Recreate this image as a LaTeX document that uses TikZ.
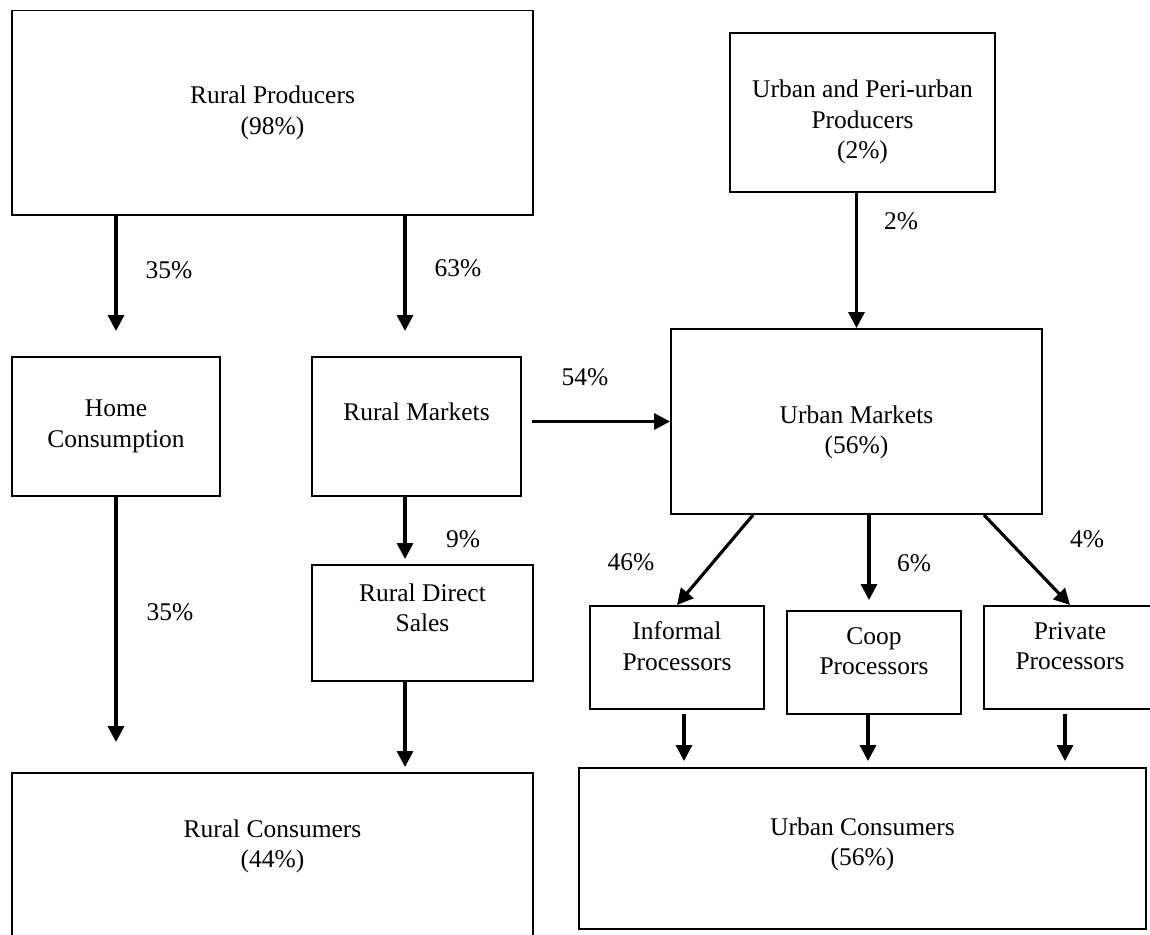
\documentclass[tikz,border=0pt]{standalone}
\usepackage{fontspec}
\setmainfont{Liberation Serif}
\usepackage{tikz}
\usetikzlibrary{arrows.meta}

\begin{document}
\begin{tikzpicture}[x=0.02cm, y=-0.02cm]
        \tikzset{box/.style = {shape=rectangle, draw, line width=1.1pt, align=center,
                inner sep=0pt, font=\fontsize{14.5}{17.4}\selectfont}}
        \tikzset{pct/.style = {font=\fontsize{14.5}{17.4}\selectfont}}
        \tikzset{flow/.style = {line width=1.8pt, -{Triangle[length=0.32cm, width=0.32cm]}}}

        \useasboundingbox (0, 0) rectangle (1150, 934);

        \node[box, minimum width=10.42cm, minimum height=4.09cm] (rp) at (272.5, 112.75) {Rural Producers\\(98\%)};
        \node[box, minimum width=5.3cm, minimum height=3.18cm] (up) at (862.5, 112.5) {\rule{0pt}{21pt}Urban and Peri-urban\\Producers\\(2\%)};

        \node[box, minimum width=4.16cm, minimum height=2.78cm] (hc) at (116, 426.5) {Home\\Consumption};
        \node[box, minimum width=4.18cm, minimum height=2.78cm] (rm) at (416.5, 426.5) {Rural Markets\\~};
        \node[box, minimum width=7.42cm, minimum height=3.7cm] (um) at (856.5, 421.5) {\rule{0pt}{22.5pt}Urban Markets\\(56\%)};

        \node[box, minimum width=4.42cm, minimum height=2.32cm] (rds) at (422.5, 623) {Rural Direct\\Sales\\~};
        \node[box, minimum width=3.48cm, minimum height=2.06cm] (ip) at (677, 657.5) {Informal\\Processors\rule[-13pt]{0pt}{0pt}};
        \node[box, minimum width=3.48cm, minimum height=2.06cm] (cp) at (874, 662.5) {Coop\\Processors\rule[-13pt]{0pt}{0pt}};
        \node[box, minimum width=3.44cm, minimum height=2.06cm] (pp) at (1070, 657.5) {Private\\Processors\rule[-13pt]{0pt}{0pt}};

        \node[box, minimum width=10.42cm, minimum height=3.44cm] (rc) at (272.5, 859) {Rural Consumers\\(44\%)\\~};
        \node[box, minimum width=11.34cm, minimum height=3.22cm] (uc) at (862.5, 848.5) {Urban Consumers\\(56\%)\rule[-8pt]{0pt}{0pt}};

        \node[pct] (p35a) at (169, 270) {35\%};
        \node[pct] (p63) at (458, 268) {63\%};
        \node[pct] (p2) at (901, 221) {2\%};
        \node[pct] (p54) at (585, 377) {54\%};
        \node[pct] (p35b) at (170, 612) {35\%};
        \node[pct] (p9) at (463, 539) {9\%};
        \node[pct] (p46) at (631, 562) {46\%};
        \node[pct] (p6) at (914, 563) {6\%};
        \node[pct] (p4) at (1087, 539) {4\%};

        \coordinate (rmx) at ([xshift=-0.23cm]rm.north);

        \draw[flow, shorten >=0.5cm] (rp.south -| hc.north) to (hc.north);
        \draw[flow, shorten >=0.5cm] (rp.south -| rmx) to (rmx);
        \draw[flow] (up.south -| um.north) to (um.north);
        \draw[flow, shorten <=0.2cm] (rm.east |- um.west) to (um.west);

        \draw[flow, shorten >=0.6cm] (hc.south) to (hc.south |- rc.north);
        \draw[flow, shorten >=0.1cm] (rmx |- rm.south) to (rmx |- rds.north);
        \draw[flow, shorten >=0.1cm] (rmx |- rds.south) to (rmx |- rc.north);

        \draw[flow] ([xshift=-2.07cm]um.south) to (ip.north);
        \draw[flow, shorten >=0.2cm] ([xshift=0.25cm]um.south) to ([xshift=0.25cm]um.south |- cp.north);
        \draw[flow] ([xshift=2.55cm]um.south) to (pp.north);

        \draw[flow, shorten <=0.08cm, shorten >=0.12cm] ([xshift=0.14cm]ip.south) to ([xshift=0.14cm]ip.south |- uc.north);
        \draw[flow, shorten >=0.12cm] ([xshift=-0.12cm]cp.south) to ([xshift=-0.12cm]cp.south |- uc.north);
        \draw[flow, shorten <=0.08cm, shorten >=0.12cm] ([xshift=-0.1cm]pp.south) to ([xshift=-0.1cm]pp.south |- uc.north);
    \end{tikzpicture}
\end{document}
